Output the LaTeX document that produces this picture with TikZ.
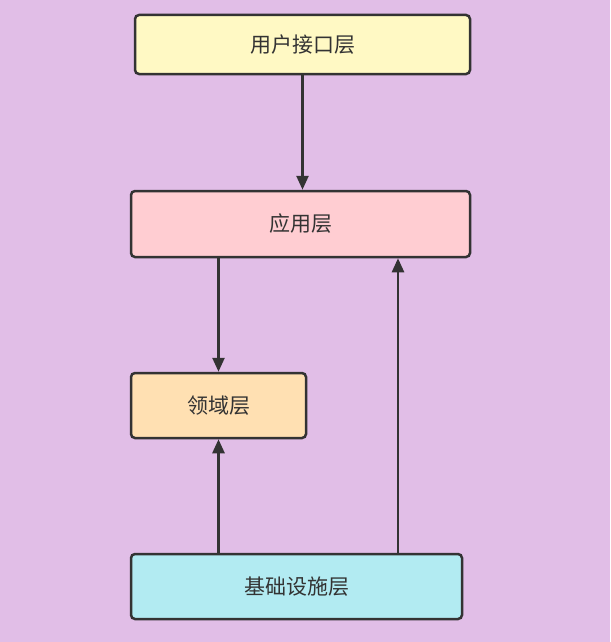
\documentclass[tikz,border=0pt]{standalone}
\usepackage{fontspec}
\newfontfamily\cjk{Noto Sans CJK SC}
\usetikzlibrary{arrows.meta}
\definecolor{bgpurple}{HTML}{E1BEE7}
\definecolor{uiyellow}{HTML}{FFF9C4}
\definecolor{apppink}{HTML}{FFCDD2}
\definecolor{domorange}{HTML}{FFE0B2}
\definecolor{infracyan}{HTML}{B2EBF2}
\definecolor{linegray}{HTML}{333333}
\begin{document}
\begin{tikzpicture}[x=1pt, y=-1pt]

      \tikzset{layer/.style={draw=linegray, line width=2.5pt, rounded corners=4pt, inner sep=0pt, font=\cjk\fontsize{21}{25}\selectfont, text=linegray},
               arr/.style={draw=linegray, line width=2.5pt, -{Triangle[width=12pt, length=14pt]}}}
%% Background
      	\fill[bgpurple] (0,0) rectangle (610,642);
      	\useasboundingbox (0,0) rectangle (610,642);
%% Layers
      	\node[layer, fill=uiyellow, minimum width=335pt, minimum height=59pt] (ui) at (302.5,44.5) {用户接口层};
      	\node[layer, fill=apppink, minimum width=339pt, minimum height=66pt] (app) at (300.5,224) {应用层};
    	\node[layer, fill=domorange, minimum width=175pt, minimum height=65pt] (dom) at (218.5,405.5) {领域层};
  	    \node[layer, fill=infracyan, minimum width=331pt, minimum height=65pt] (infra) at (296.5,586.5) {基础设施层};
      	\coordinate (up) at (398,0);
%Arrows
		\draw[arr] (ui.south) -- (ui.south |- app.north);
		\draw[arr] (app.south -| dom) -- (dom.north);
		\draw[arr] (infra.north -| dom) -- (dom.south);
		\draw[arr] (infra.north -| up) -- (app.south -| up);

	\end{tikzpicture}
\end{document}
